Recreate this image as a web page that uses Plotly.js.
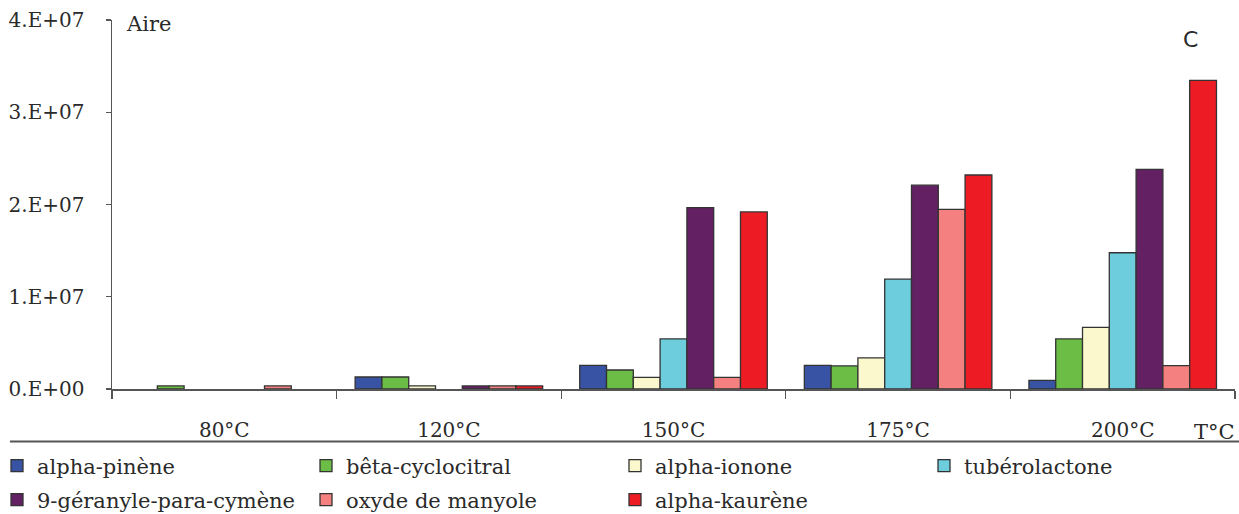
<!DOCTYPE html>
<html>
<head>
<meta charset="utf-8">
<script src="https://cdn.plot.ly/plotly-3.0.1.min.js"></script>
<style>html,body{margin:0;padding:0;background:#fff;}</style>
</head>
<body>
<div id="chart" style="width:1239px;height:514px;"></div>
<script>
// ---- data ----
const categories = ["80°C", "120°C", "150°C", "175°C", "200°C"];
const seriesNames = ["alpha-pinène", "bêta-cyclocitral", "alpha-ionone", "tubérolactone",
                     "9-géranyle-para-cymène", "oxyde de manyole", "alpha-kaurène"];
const alphaPinene     = [null,   1.3e6,  2.57e6, 2.57e6, 0.94e6];
const betaCyclocitral = [0.33e6, 1.3e6,  2.06e6, 2.5e6,  5.43e6];
const alphaIonone     = [null,   0.33e6, 1.27e6, 3.37e6, 6.69e6];
const tuberolactone   = [null,   null,   5.43e6, 11.9e6, 14.77e6];
const geranylCymene   = [null,   0.33e6, 19.66e6, 22.09e6, 23.8e6];
const oxydeManyole    = [0.33e6, 0.33e6, 1.27e6, 19.48e6, 2.53e6];
const alphaKaurene    = [null,   0.33e6, 19.19e6, 23.2e6, 33.45e6];
const yTickVals = [0, 1e7, 2e7, 3e7, 4e7];
const yTickText = ["0.E+00", "1.E+07", "2.E+07", "3.E+07", "4.E+07"];

const seriesValues = [alphaPinene, betaCyclocitral, alphaIonone, tuberolactone,
                      geranylCymene, oxydeManyole, alphaKaurene];
const colors = ["#3953A4", "#6BBD45", "#FAF8CC", "#6DCDDC", "#632063", "#F48080", "#ED1C24"];

const traces = seriesNames.map((name, i) => ({
  type: "bar",
  name: name,
  x: categories,
  y: seriesValues[i],
  marker: {color: colors[i], line: {color: "#333", width: 1.3}},
  legend: i < 4 ? "legend" : "legend2",
  hoverinfo: "none"
}));

const serif = "DejaVu Serif";
const txt = "#2a2a2a";
const W = 1239, L = 112, R = 4, T = 20, B = 125;
const pw = W - L - R;
const ph = 514 - T - B;
const px2x = p => (p - L) / pw;
const py2y = p => (T + ph - p) / ph;

const legendCommon = {
  orientation: "h",
  xanchor: "left",
  yanchor: "middle",
  x: px2x(-3),
  entrywidth: 264,
  entrywidthmode: "pixels",
  font: {family: serif, size: 21, color: txt},
  bgcolor: "rgba(0,0,0,0)",
  valign: "middle",
  traceorder: "normal"
};

const layout = {
  width: W, height: 514,
  margin: {l: L, r: R, t: T, b: B, pad: 0, autoexpand: false},
  paper_bgcolor: "#fff",
  plot_bgcolor: "#fff",
  barmode: "group",
  bargap: 0.165,
  bargroupgap: 0,
  showlegend: true,
  legend: Object.assign({}, legendCommon, {y: py2y(466)}),
  legend2: Object.assign({}, legendCommon, {y: py2y(500)}),
  xaxis: {
    type: "category",
    range: [-0.5, 4.5],
    tickson: "boundaries",
    ticks: "outside",
    ticklen: 8,
    tickwidth: 1.3,
    tickcolor: "#555",
    showline: true,
    linecolor: "#555",
    linewidth: 1.5,
    showgrid: false,
    zeroline: false,
    ticklabelstandoff: 22,
    tickfont: {family: serif, size: 20, color: txt},
    fixedrange: true
  },
  yaxis: {
    range: [0, 4e7],
    tickmode: "array",
    tickvals: yTickVals,
    ticktext: yTickText,
    ticks: "outside",
    ticklen: 5,
    tickwidth: 1.3,
    tickcolor: "#555",
    showline: true,
    linecolor: "#555",
    linewidth: 1.5,
    showgrid: false,
    zeroline: false,
    ticklabelstandoff: 17,
    tickfont: {family: serif, size: 20, color: txt},
    fixedrange: true
  },
  shapes: [{
    type: "line", xref: "paper", yref: "paper",
    x0: px2x(10), x1: px2x(1239), y0: py2y(441.5), y1: py2y(441.5),
    line: {color: "#555", width: 2.2}
  }],
  annotations: [
    {text: "Aire", xref: "paper", yref: "paper", x: px2x(124), y: py2y(24),
     xanchor: "left", yanchor: "middle", showarrow: false,
     font: {family: serif, size: 21, color: txt}},
    {text: "T°C", xref: "paper", yref: "paper", x: px2x(1237), y: py2y(432),
     xanchor: "right", yanchor: "middle", showarrow: false,
     font: {family: serif, size: 21, color: txt}},
    {text: "C", xref: "paper", yref: "paper", x: px2x(1190), y: py2y(40),
     xanchor: "center", yanchor: "middle", showarrow: false,
     font: {family: "DejaVu Sans", size: 22, color: txt}}
  ]
};

Plotly.newPlot("chart", traces, layout, {staticPlot: true, displayModeBar: false});
</script>
</body>
</html>
